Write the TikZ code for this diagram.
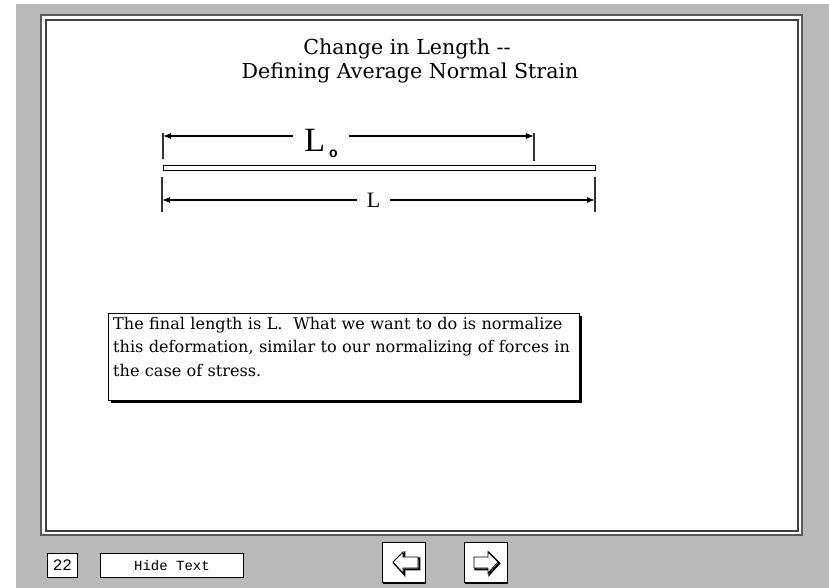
\documentclass[tikz,border=0pt]{standalone}
\usepackage{fontspec}
\setmainfont{Liberation Serif}
\newfontfamily\wideserif{DejaVu Serif}
\newfontfamily\monofont{Liberation Mono}
\newfontfamily\sansbold{Liberation Sans}
\usetikzlibrary{arrows.meta}
\tikzset{
  pat/.style={fill=gray!55},
  frameline/.style={draw=black!65, line width=1.6},
  dimline/.style={draw=black, line width=1.2},
  dimarrow/.style={dimline, -{Latex[length=8,width=6]}},
  tick/.style={draw=black!80, line width=1.2},
  btn/.style={draw=black, line width=1, fill=white, inner sep=0},
  arrowshape/.style={draw=black, line width=0.8, fill=white, line join=miter},
  arrowshadow/.style={draw=black, line width=2, line join=miter},
  titletext/.style={font=\wideserif\fontsize{20.6}{24}\selectfont},
}
\begin{document}
\begin{tikzpicture}[x=1pt,y=-1pt]
\useasboundingbox (0,0) rectangle (829,588);
\fill[white] (0,0) rectangle (829,588);
\fill[pat] (16,4) rectangle (829,588);
% frame
\draw[frameline, fill=white] (41,15) rectangle (802,535);
\draw[frameline, draw=black!75] (46,20) rectangle (798,531);
% title
\node[titletext] (t1) at (407,49) {Change in Length -{}-};
\node[titletext] (t2) at (410,73) {Defining Average Normal Strain};
% bar
\node[draw=black, line width=1, inner sep=0, minimum width=432, minimum height=5, fill=white] (bar) at (379.5,168.5) {};
% Lo dimension
\coordinate (lo1t) at (163,133);
\coordinate (lo1b) at (163,159);
\coordinate (lo2t) at (534,133);
\coordinate (lo2b) at (534,161);
\coordinate (lo1) at (163,136);
\coordinate (lo2) at (534,136);
\draw[tick] (lo1t) -- (lo1b);
\draw[tick] (lo2t) -- (lo2b);
\node[inner sep=0, minimum width=55, minimum height=20] (lo) at (321,136)
  {\smash{\raisebox{-16pt}{\fontsize{34}{34}\selectfont L\kern4pt\raisebox{-5pt}{\sansbold\fontsize{14}{14}\selectfont\bfseries o}}}};
\draw[dimarrow] (lo.west) -- (lo1);
\draw[dimarrow] (lo.east) -- (lo2);
% L dimension
\coordinate (l1t) at (162,177);
\coordinate (l1b) at (162,212);
\coordinate (l2t) at (595,177);
\coordinate (l2b) at (595,212);
\coordinate (l1) at (162,200);
\coordinate (l2) at (595,200);
\draw[tick] (l1t) -- (l1b);
\draw[tick] (l2t) -- (l2b);
\node[inner sep=0, minimum width=33, minimum height=16] (ll) at (373.5,200)
  {\fontsize{22}{22}\selectfont L};
\draw[dimarrow] (ll.west) -- (l1);
\draw[dimarrow] (ll.east) -- (l2);
% text box
\fill[black] (111,316) rectangle (582,403);
\node[draw=black, line width=1, fill=white, anchor=north west, inner sep=0,
      minimum width=471, minimum height=87] (tb) at (108,313) {};
\node[anchor=north west, inner xsep=5, inner ysep=4, text width=520, align=left,
      font=\wideserif\fontsize{16.1}{23.5}\selectfont] (tbt) at (tb.north west)
  {The final length is L.\ \ What we want to do is normalize\\
   this deformation, similar to our normalizing of forces in\\
   the case of stress.};
% bottom buttons
\node[btn, anchor=north west, minimum width=30, minimum height=24] (num) at (47,553)
  {\monofont\fontsize{16}{16}\selectfont 22};
\node[btn, anchor=north west, minimum width=143, minimum height=24] (hide) at (100,553)
  {\monofont\fontsize{14}{14}\selectfont Hide Text};
% arrow buttons
\fill[black] (383,544) rectangle (426,584);
\node[btn, anchor=north west, minimum width=43, minimum height=40] (prev) at (382,542) {};
\fill[black] (465,544) rectangle (508,584);
\node[btn, anchor=north west, minimum width=43, minimum height=40] (next) at (464,542) {};
\begin{scope}[shift={(1.3,1.3)}]
\draw[arrowshadow] (393,562) -- (403,552) -- (403,557) -- (418,557) -- (418,568) -- (403,568) -- (403,573) -- cycle;
\draw[arrowshadow] (498,562) -- (488,552) -- (488,557) -- (474,557) -- (474,568) -- (488,568) -- (488,573) -- cycle;
\end{scope}
\draw[arrowshape] (393,562) -- (403,552) -- (403,557) -- (418,557) -- (418,568) -- (403,568) -- (403,573) -- cycle;
\draw[arrowshape] (498,562) -- (488,552) -- (488,557) -- (474,557) -- (474,568) -- (488,568) -- (488,573) -- cycle;
\end{tikzpicture}
\end{document}
